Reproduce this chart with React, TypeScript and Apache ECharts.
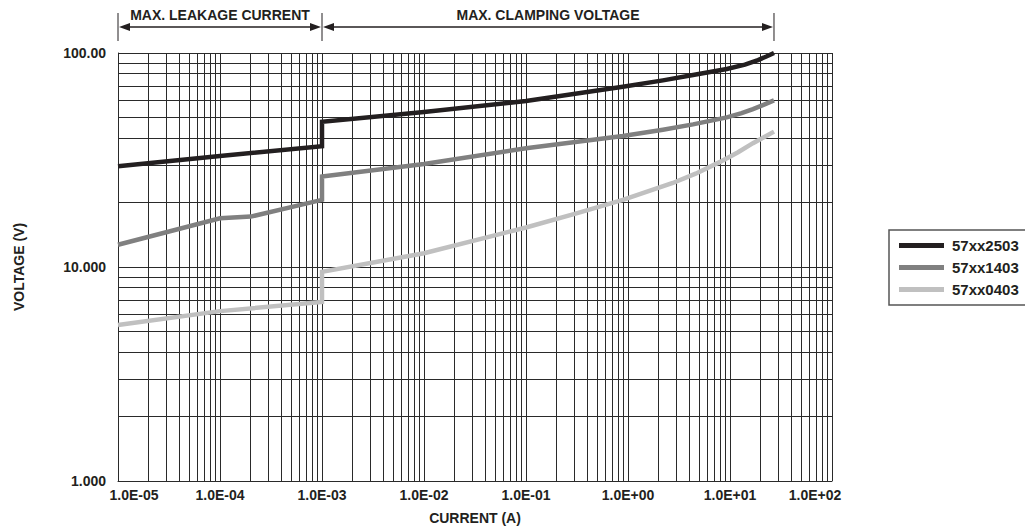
import React, { useEffect, useRef } from "react";
import * as echarts from "echarts";

const xTickLabels = ["1.0E-05", "1.0E-04", "1.0E-03", "1.0E-02", "1.0E-01", "1.0E+00", "1.0E+01", "1.0E+02"];
const yTickLabels = ["1.000", "10.000", "100.00"];
const seriesNames = ["57xx2503", "57xx1403", "57xx0403"];
const seriesColors = ["#231f20", "#808080", "#c0c0c0"];

// Current (A) / voltage (V) per device; the repeated 1E-03 point is the step
// between the leakage region and the clamping region.
const current2503 = [1e-5, 1e-4, 1e-3, 1e-3, 1e-2, 1e-1, 0.89, 2.2, 4.34, 9.3, 14, 18.8, 23, 27];
const voltage2503 = [29.6, 33.0, 36.7, 47.7, 53.0, 59.7, 69.6, 74.5, 78.9, 84.2, 88.3, 92.7, 96.5, 100];

const current1403 = [1e-5, 1e-4, 2e-4, 1e-3, 1e-3, 1e-2, 1e-1, 0.89, 2.2, 4.34, 9.3, 13, 16.8, 21, 27];
const voltage1403 = [12.7, 16.9, 17.2, 20.6, 26.5, 30.3, 35.9, 40.9, 43.8, 46.4, 50.0, 52.4, 54.7, 57.1, 60.1];

const current0403 = [1e-5, 1e-4, 1e-3, 1e-3, 1e-2, 1e-1, 0.3, 0.89, 2.75, 4.6, 7.9, 12, 16.8, 21.5, 27];
const voltage0403 = [5.36, 6.22, 6.86, 9.5, 11.6, 15.3, 17.7, 20.6, 24.7, 27.3, 30.9, 34.4, 37.9, 40.4, 42.9];

const xDecades = [1e-5, 1e-4, 1e-3, 1e-2, 1e-1, 1, 10];
const yDecades = [1, 10];
const gridMultipliers = [2, 3, 4, 5, 6, 7, 8, 9];

const annotationBounds = [1e-5, 1e-3, 27];
const annotationTexts = ["MAX. LEAKAGE CURRENT", "MAX. CLAMPING VOLTAGE"];

const FONT = '"Liberation Sans", Arial, sans-serif';
const GRID_COLOR = "#2a2a2a";
const X_MIN = 1e-5;
const X_MAX = 100;
const Y_MIN = 1;
const Y_MAX = 100;

function pairs(xs: number[], ys: number[]) {
  return xs.map((x, i) => [x, ys[i]]);
}

export default function App() {
  const ref = useRef<HTMLDivElement>(null);
  useEffect(() => {
    if (!ref.current) return;
    const chart = echarts.init(ref.current, null, { renderer: "svg" });
    const minorX: number[] = [];
    xDecades.forEach((d) => gridMultipliers.forEach((m) => minorX.push(d * m)));
    const minorY: number[] = [];
    yDecades.forEach((d) => gridMultipliers.forEach((m) => minorY.push(d * m)));

    const curves = [
      pairs(current2503, voltage2503),
      pairs(current1403, voltage1403),
      pairs(current0403, voltage0403),
    ];

    const curveSeries = seriesNames.map((name, i) => ({
      name,
      type: "line",
      data: curves[i],
      showSymbol: false,
      symbol: "none",
      smooth: false,
      z: 5,
      lineStyle: { color: seriesColors[i], width: 4.5, join: "miter", cap: "butt" },
      itemStyle: { color: seriesColors[i] },
      emphasis: { disabled: true },
    }));

    const labelBase = { fontFamily: FONT, fontWeight: "bold", fontSize: 14, color: "#231f20" };

    chart.setOption({
      animation: false,
      backgroundColor: "#ffffff",
      grid: { left: 118, right: 193, top: 53, bottom: 48, show: false, outerBoundsMode: "none", containLabel: false },
      xAxis: {
        type: "log",
        logBase: 10,
        min: X_MIN,
        max: X_MAX,
        splitNumber: 7,
        name: "CURRENT (A)",
        nameLocation: "middle",
        nameGap: 30,
        nameTextStyle: { ...labelBase },
        axisLine: { show: true, onZero: false, lineStyle: { color: GRID_COLOR, width: 1 } },
        axisTick: { show: false },
        minorTick: { show: false },
        splitLine: { show: true, lineStyle: { color: GRID_COLOR, width: 1 } },
        axisLabel: {
          ...labelBase,
          margin: 7,
          showMinLabel: true,
          showMaxLabel: true,
          formatter: (v: number) => {
            const i = Math.round(Math.log10(v)) + 5;
            const s = xTickLabels[i] ?? "";
            if (i === 0) return `{first|${s}}`;
            if (i === xTickLabels.length - 1) return `{last|${s}}`;
            return s;
          },
          rich: {
            first: { ...labelBase, padding: [0, 0, 0, 32] },
            last: { ...labelBase, padding: [0, 34, 0, 0] },
          },
        },
      },
      yAxis: {
        type: "log",
        logBase: 10,
        min: Y_MIN,
        max: Y_MAX,
        splitNumber: 2,
        name: "VOLTAGE (V)",
        nameLocation: "middle",
        nameGap: 92,
        nameRotate: 90,
        nameTextStyle: { ...labelBase },
        axisLine: { show: true, lineStyle: { color: GRID_COLOR, width: 1 } },
        axisTick: { show: false },
        minorTick: { show: false },
        splitLine: { show: true, lineStyle: { color: GRID_COLOR, width: 1 } },
        axisLabel: {
          ...labelBase,
          margin: 12,
          showMinLabel: true,
          showMaxLabel: true,
          formatter: (v: number) => yTickLabels[Math.round(Math.log10(v))] ?? "",
        },
      },
      legend: {
        data: seriesNames,
        orient: "vertical",
        left: 889,
        top: 230,
        icon: "rect",
        itemWidth: 45,
        itemHeight: 5,
        itemGap: 7,
        padding: [8, 12, 8, 10],
        borderColor: "#555555",
        borderWidth: 1.5,
        selectedMode: false,
        textStyle: { ...labelBase, fontSize: 15, padding: [0, 0, 0, 3] },
      },
      series: [
        {
          name: "minor-grid",
          type: "lines",
          coordinateSystem: "cartesian2d",
          polyline: false,
          silent: true,
          z: 1,
          lineStyle: { color: GRID_COLOR, width: 1, opacity: 1, curveness: 0 },
          emphasis: { disabled: true },
          data: [
            ...minorX.map((v) => ({ coords: [[v, Y_MIN], [v, Y_MAX]] })),
            ...minorY.map((v) => ({ coords: [[X_MIN, v], [X_MAX, v]] })),
          ],
        },
        ...curveSeries,
      ],
    });

    const px = annotationBounds.map((v) => chart.convertToPixel({ xAxisIndex: 0 }, v) as number);
    const arrowY = 27;
    const graphics: any[] = [];
    px.forEach((x) => {
      graphics.push({
        type: "line",
        shape: { x1: x, y1: 13, x2: x, y2: 41 },
        style: { stroke: "#231f20", lineWidth: 1 },
      });
    });
    for (let i = 0; i < px.length - 1; i++) {
      const a = px[i] + 1;
      const b = px[i + 1] - 1;
      graphics.push({
        type: "line",
        shape: { x1: a + 6, y1: arrowY, x2: b - 6, y2: arrowY },
        style: { stroke: "#231f20", lineWidth: 1.5 },
      });
      graphics.push({
        type: "polygon",
        shape: { points: [[a, arrowY], [a + 11, arrowY - 4], [a + 11, arrowY + 4]] },
        style: { fill: "#231f20" },
      });
      graphics.push({
        type: "polygon",
        shape: { points: [[b, arrowY], [b - 11, arrowY - 4], [b - 11, arrowY + 4]] },
        style: { fill: "#231f20" },
      });
      graphics.push({
        type: "text",
        x: (px[i] + px[i + 1]) / 2,
        y: 15,
        style: {
          text: annotationTexts[i],
          fill: "#231f20",
          font: `bold 14px ${FONT}`,
          align: "center",
          verticalAlign: "middle",
        },
      });
    }
    chart.setOption({ graphic: graphics });

    return () => chart.dispose();
  }, []);

  return (
    <div
      ref={ref}
      style={{ position: "fixed", left: 0, top: 0, width: 1025, height: 529, background: "#fff" }}
    />
  );
}
